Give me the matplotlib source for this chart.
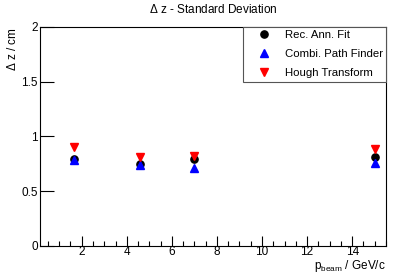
import matplotlib
matplotlib.use('Agg')
import matplotlib.pyplot as plt
from matplotlib.ticker import MultipleLocator

plt.rcParams['font.family'] = ['Liberation Sans', 'DejaVu Sans']
plt.rcParams['mathtext.fontset'] = 'custom'
plt.rcParams['mathtext.rm'] = 'Liberation Sans'

# momenta (GeV/c) and sigma of delta z (cm)
p_beam = [1.65, 4.6, 7.0, 15.0]
rec_ann_fit = [0.79, 0.745, 0.79, 0.81]
combi_path = [0.785, 0.74, 0.715, 0.755]
hough = [0.90, 0.815, 0.82, 0.88]

fig = plt.figure(figsize=(4.07, 2.76), dpi=100)
ax = fig.add_axes([0.0983, 0.1098, 0.8501, 0.7924])

ax.plot(p_beam, rec_ann_fit, 'o', color='black', markersize=5.2, label='Rec. Ann. Fit')
ax.plot(p_beam, combi_path, '^', color='blue', markersize=5.2, label='Combi. Path Finder')
ax.plot(p_beam, hough, 'v', color='red', markersize=5.2, label='Hough Transform')

ax.set_xlim(0.15, 15.5)
ax.set_ylim(0, 2)
ax.xaxis.set_major_locator(MultipleLocator(2))
ax.xaxis.set_minor_locator(MultipleLocator(0.5))
ax.set_yticks([0, 0.5, 1, 1.5, 2])
ax.set_yticklabels(['0', '0.5', '1', '1.5', '2'])

ax.tick_params(axis='x', which='major', length=7, width=0.8, direction='in', labelsize=8.5, pad=0.3)
ax.tick_params(axis='x', which='minor', length=3.5, width=0.8, direction='in')
ax.tick_params(axis='y', which='major', length=10, width=0.8, direction='in', labelsize=8.5, pad=1.5)
for s in ax.spines.values():
    s.set_linewidth(0.8)

ax.set_title(r'$\Delta$ z - Standard Deviation', fontsize=8.5, pad=10)
fig.text(0.03, 0.90, r'$\Delta$ z / cm', rotation=90, ha='center', va='top', fontsize=8.5)
fig.text(0.948, 0.026, r'p$_{\mathrm{beam}}$ / GeV/c', ha='right', va='baseline', fontsize=8.5)

leg = ax.legend(loc='upper right', bbox_to_anchor=(1.0, 1.0), borderaxespad=0,
                fancybox=False, edgecolor='#555555', fontsize=8.2, handlelength=3.05,
                handletextpad=0.3, labelspacing=0.8, borderpad=0.28, framealpha=1)
leg.get_frame().set_linewidth(0.8)

fig.savefig('out.png', dpi=100)
